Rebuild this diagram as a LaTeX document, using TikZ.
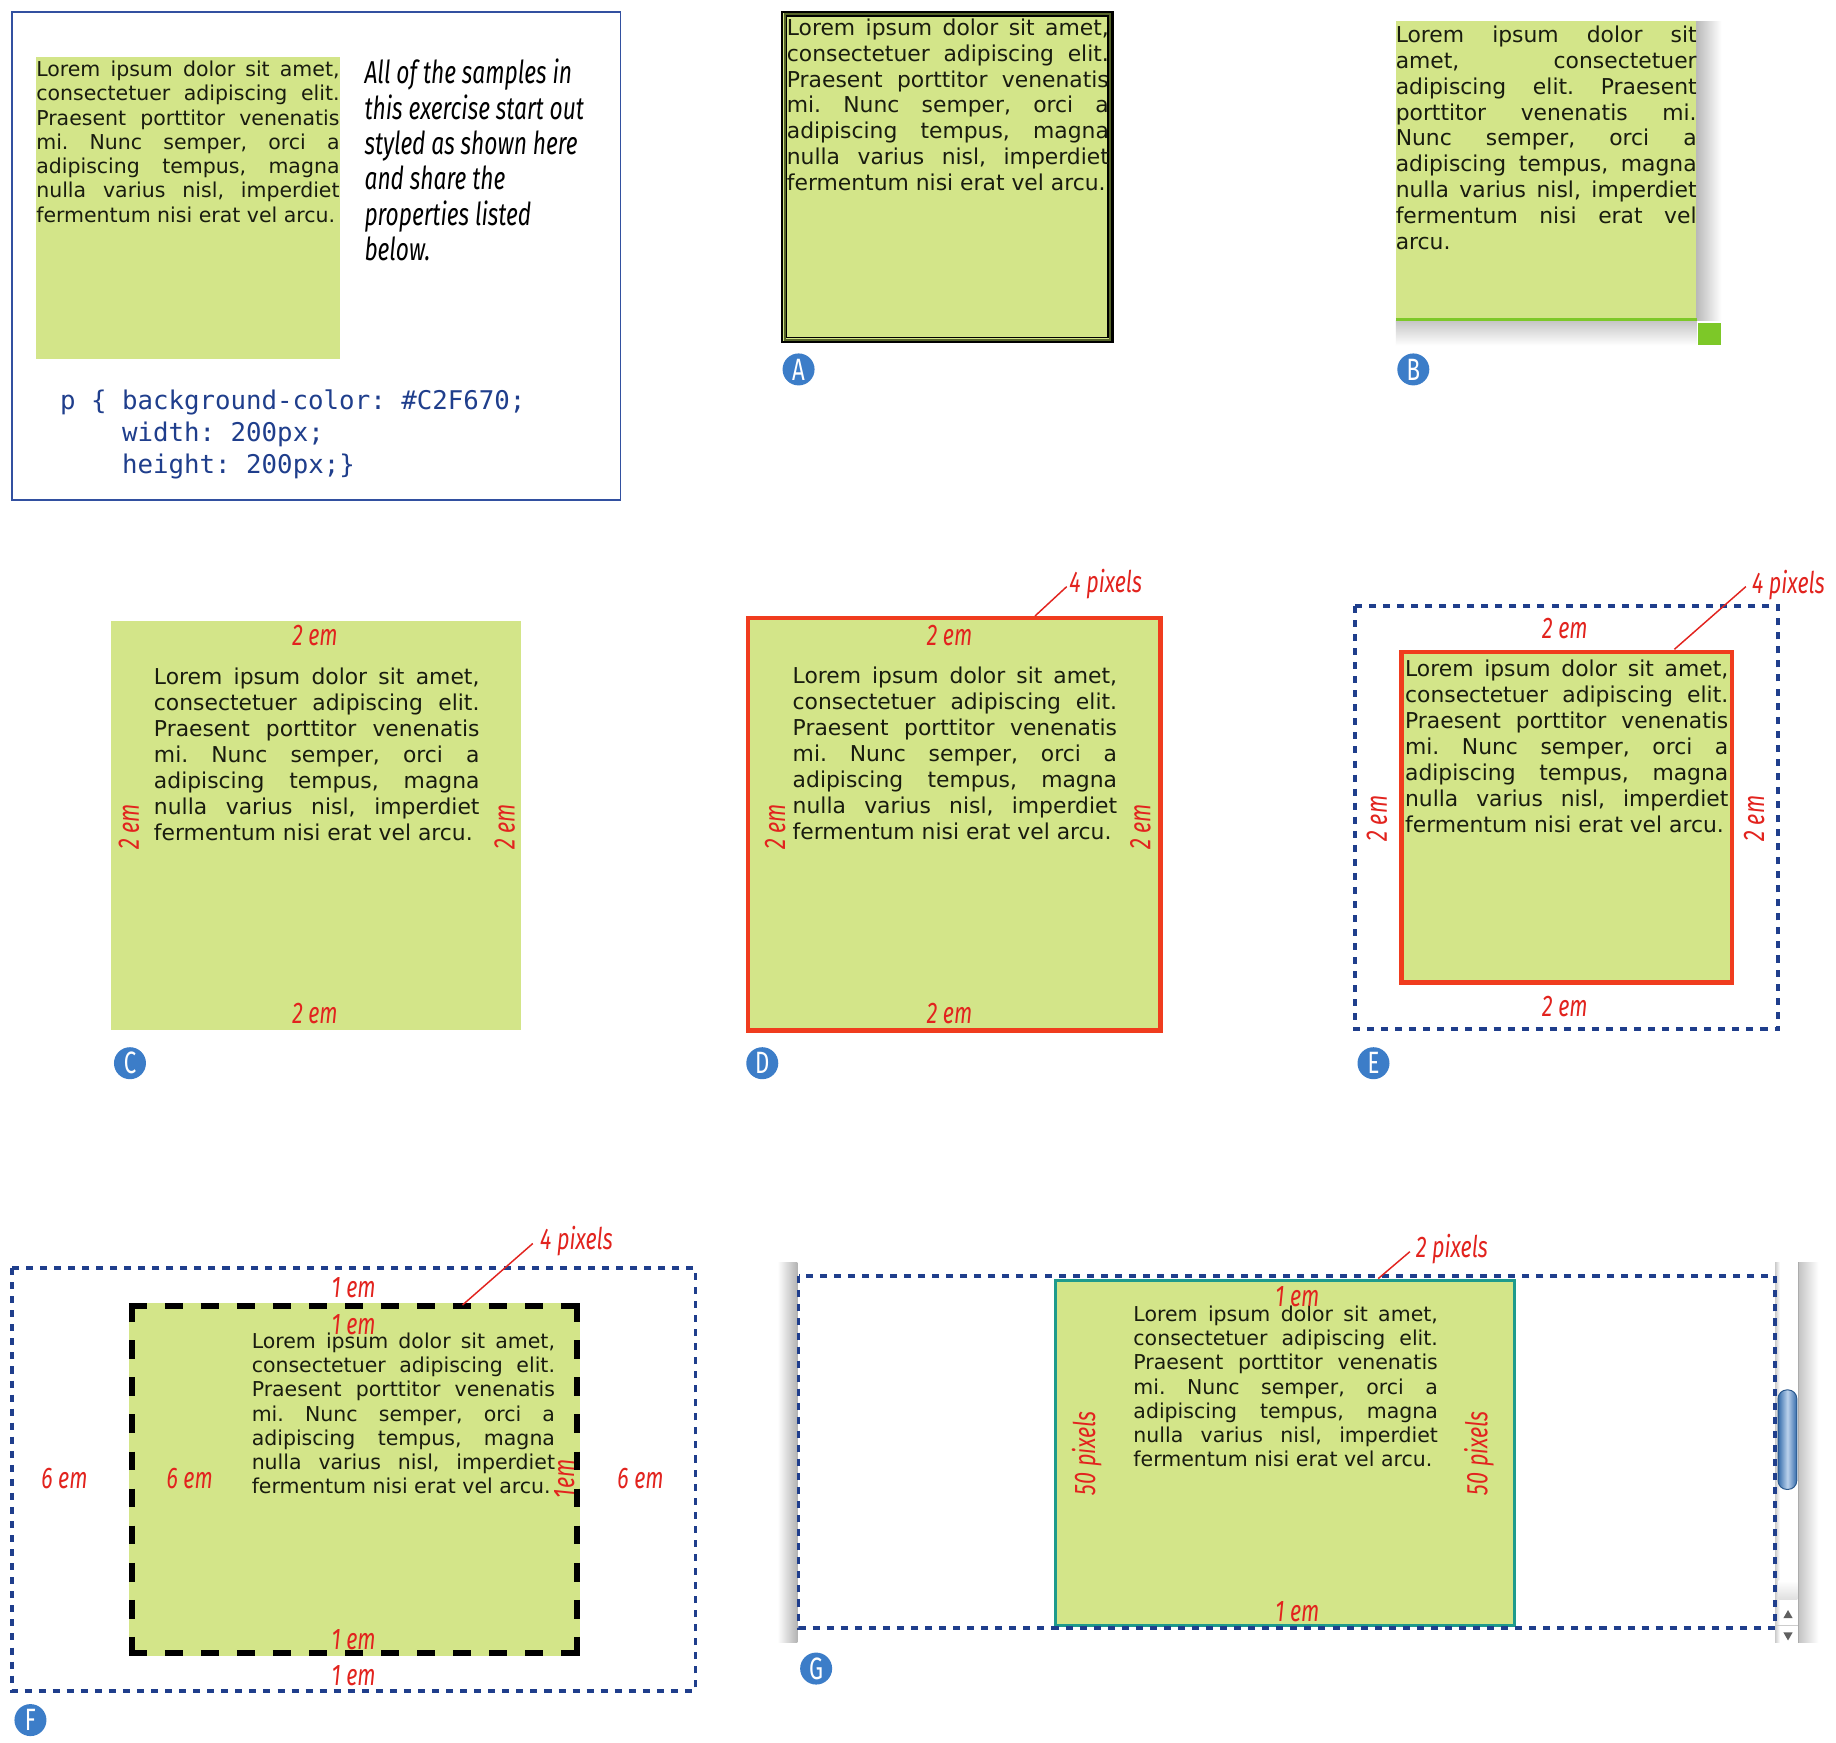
\documentclass[tikz,border=0pt]{standalone}
\usepackage{fontspec}
\setmainfont{DejaVu Sans}
\newfontfamily\loremf{DejaVu Sans}
\newfontfamily\condf[FakeStretch=0.72]{Fira Sans}
\newfontfamily\codef{DejaVu Sans Mono}
\definecolor{pgreen}{RGB}{211,229,137}
\definecolor{lred}{RGB}{226,35,30}
\definecolor{bred}{RGB}{240,60,30}
\definecolor{dblue}{RGB}{31,62,140}
\definecolor{tlblue}{RGB}{50,80,160}
\definecolor{lblue}{RGB}{60,125,200}
\definecolor{tealbd}{RGB}{30,155,140}
\definecolor{bgreen}{RGB}{125,200,40}
\definecolor{olivebd}{RGB}{85,100,40}
\definecolor{textk}{RGB}{25,28,15}
\frenchspacing
\newcommand{\Lsmall}{\fontsize{10.5pt}{12.42pt}\selectfont}
\newcommand{\Lbig}{\fontsize{11.2pt}{13.3pt}\selectfont}
\newcommand{\jl}[2]{\hbox{\makebox[#1][s]{#2}}}
\newcommand{\loremstd}[2]{\vtop{#2%
\jl{#1}{Lorem ipsum dolor sit amet,}%
\jl{#1}{consectetuer adipiscing elit.}%
\jl{#1}{Praesent porttitor venenatis}%
\jl{#1}{mi. Nunc semper, orci a}%
\jl{#1}{adipiscing tempus, magna}%
\jl{#1}{nulla varius nisl, imperdiet}%
\hbox{fermentum nisi erat vel arcu.}}}
\newcommand{\loremB}[2]{\vtop{#2%
\jl{#1}{Lorem ipsum dolor sit}%
\jl{#1}{amet, consectetuer}%
\jl{#1}{adipiscing elit. Praesent}%
\jl{#1}{porttitor venenatis mi.}%
\jl{#1}{Nunc semper, orci a}%
\jl{#1}{adipiscing tempus, magna}%
\jl{#1}{nulla varius nisl, imperdiet}%
\jl{#1}{fermentum nisi erat vel}%
\hbox{arcu.}}}
\tikzset{
  loremnode/.style={anchor=base west, inner sep=0pt, outer sep=0pt, font=\loremf, text=textk},
  lbl/.style={text=lred, font=\condf\itshape\fontsize{15.3pt}{16pt}\selectfont, inner sep=0pt},
  circlbl/.style={circle, fill=lblue, text=white, minimum size=16.4pt, inner sep=0pt, font=\condf\fontsize{15.8pt}{16pt}\selectfont},
  bluedash/.style={draw=dblue, line width=1.95pt, dash pattern=on 3.6pt off 3.6pt},
  redbd/.style={draw=bred, line width=2.3pt},
  leader/.style={draw=lred, line width=0.75pt},
  greenbox/.style={fill=pgreen},
  codetext/.style={anchor=base west, inner sep=0pt, text=dblue, font=\codef\fontsize{13.2pt}{14pt}\selectfont},
}
\begin{document}
\begin{tikzpicture}[x=0.6pt,y=-0.6pt]
\useasboundingbox (0,0) rectangle (1568,1488);
\fill[white] (0,0) rectangle (1568,1488);

% ---------- top-left panel ----------
\draw[tlblue, line width=0.9pt] (10,10) rectangle (530,427);
\fill[greenbox] (31,49) rectangle (290,307);
\node[loremnode] (tltext) at (31,65.5) {\loremstd{155.4pt}{\Lsmall}};
\node[anchor=base west, inner sep=0pt, font=\condf\itshape\fontsize{16.2pt}{18.1pt}\selectfont] (desc) at (311,71.7)
  {\vtop{\hbox{All of the samples in}\hbox{this exercise start out}\hbox{styled as shown here}\hbox{and share the}\hbox{properties listed}\hbox{below.}}};
\node[codetext] (code1) at (51,350) {p \{ background-color: \#C2F670;};
\node[codetext] (code2) at (104,377) {width: 200px;};
\node[codetext] (code3) at (104,404) {height: 200px;\}};

% ---------- A ----------
\fill[greenbox] (667,9) rectangle (951,293);
\draw[black, line width=1.2pt] (668,10) rectangle (950,292);
\draw[olivebd, line width=1.0pt] (670,12) rectangle (948,290);
\draw[black, line width=0.8pt] (671.6,13.6) rectangle (946.4,288.4);
\node[loremnode] (atext) at (672,30) {\loremstd{165pt}{\Lbig}};
\node[circlbl] (la) at (682,315.5) {A};

% ---------- B ----------
\fill[greenbox] (1192,18) rectangle (1449,273);
\shade[left color=gray!55, right color=white] (1448.5,18) rectangle (1470,274);
\shade[top color=gray!45, bottom color=white] (1192,274) rectangle (1449,295);
\draw[bgreen, line width=1.2pt] (1192,273) -- (1449,273);
\fill[bgreen] (1450.5,276) rectangle (1470,295);
\node[loremnode] (btext) at (1192,36) {\loremB{154.2pt}{\Lbig}};
\node[circlbl] (lb) at (1207,315.5) {B};

% ---------- C ----------
\fill[greenbox] (95,530) rectangle (445,880);
\node[loremnode] (ctext) at (131.5,585) {\loremstd{166.8pt}{\Lbig}};
\node[lbl] (c1) at (269,543) {2 em};
\node[lbl] (c2) at (269,866) {2 em};
\node[lbl, rotate=90] (c3) at (110,706) {2 em};
\node[lbl, rotate=90] (c4) at (431,706) {2 em};
\node[circlbl] (lc) at (111,908) {C};

% ---------- D ----------
\fill[greenbox] (637,526) rectangle (993,882);
\draw[redbd] (639,528) rectangle (991,880);
\node[loremnode] (dtext) at (677,584) {\loremstd{166.2pt}{\Lbig}};
\node[lbl] (d1) at (811,543) {2 em};
\node[lbl] (d2) at (811,866) {2 em};
\node[lbl, rotate=90] (d3) at (662,706) {2 em};
\node[lbl, rotate=90] (d4) at (974,706) {2 em};
\node[lbl, anchor=west] (d5) at (913,499) {4 pixels};
\coordinate (d5a) at (884,526);
\coordinate (d5b) at (911,501);
\draw[leader] (d5a) -- (d5b);
\node[circlbl] (ld) at (651,908) {D};

% ---------- E ----------
\draw[bluedash] (1157,517.5) rectangle (1518.5,879);
\fill[greenbox] (1195,555) rectangle (1481,841);
\draw[redbd, line width=2.2pt] (1196.9,556.9) rectangle (1479.1,839.1);
\node[loremnode] (etext) at (1200,578) {\loremstd{165.6pt}{\Lbig}};
\node[lbl] (e1) at (1336.5,537) {2 em};
\node[lbl] (e2) at (1336.5,860) {2 em};
\node[lbl, rotate=90] (e3) at (1176,699) {2 em};
\node[lbl, rotate=90] (e4) at (1498,699) {2 em};
\node[lbl, anchor=west] (e5) at (1496,499.5) {4 pixels};
\coordinate (e5a) at (1430,554.5);
\coordinate (e5b) at (1491,501);
\draw[leader] (e5a) -- (e5b);
\node[circlbl] (le) at (1173,908) {E};

% ---------- F ----------
\draw[bluedash] (10,1083) rectangle (594,1444);
\fill[greenbox] (110,1113) rectangle (495,1414);
\draw[black, line width=3pt, dash pattern=on 9.3pt off 9.17pt] (110,1115.5) -- (495,1115.5);
\draw[black, line width=3pt, dash pattern=on 9.3pt off 9.17pt] (110,1411.5) -- (495,1411.5);
\draw[black, line width=3pt, dash pattern=on 9.6pt off 9.4pt] (112.5,1113) -- (112.5,1414);
\draw[black, line width=3pt, dash pattern=on 9.6pt off 9.4pt] (492.5,1113) -- (492.5,1414);
\node[loremnode] (ftext) at (215,1151.5) {\loremstd{155.4pt}{\Lsmall}};
\node[lbl] (f1) at (302,1100) {1 em};
\node[lbl] (f2) at (302,1131) {1 em};
\node[lbl] (f3) at (302,1400) {1 em};
\node[lbl] (f4) at (302,1431) {1 em};
\node[lbl] (f5) at (55,1263) {6 em};
\node[lbl] (f6) at (162,1263) {6 em};
\node[lbl] (f7) at (547,1263) {6 em};
\node[lbl, rotate=90] (f8) at (482,1263) {1em};
\node[lbl, anchor=west] (f9) at (461,1060) {4 pixels};
\coordinate (f9a) at (395,1114.5);
\coordinate (f9b) at (455,1062);
\draw[leader] (f9a) -- (f9b);
\node[circlbl] (lf) at (26,1469) {F};

% ---------- G ----------
\shade[left color=white, right color=gray!60] (664,1078) rectangle (681,1403);
\shade[left color=gray!40, right color=white] (1516,1078) rectangle (1520,1403);
\fill[white] (1520,1078) rectangle (1535.5,1403);
\draw[gray!65, line width=0.6pt] (1536,1078) -- (1536,1403);
\shade[left color=gray!45, right color=white] (1536.5,1078) rectangle (1553,1403);
\shade[top color=white, bottom color=gray!25] (1519,1350) rectangle (1535,1366);
\draw[gray!40, line width=0.4pt] (1517,1388) -- (1535.5,1388);
\fill[gray!75!black] (1523,1382) -- (1531,1382) -- (1527,1375) -- cycle;
\fill[gray!75!black] (1523,1394) -- (1531,1394) -- (1527,1401) -- cycle;
\shade[draw=lblue!70!black, line width=0.5pt, rounded corners=4.5pt, left color=lblue!85!black, right color=lblue!85!black, middle color=lblue!35] (1518.5,1187) rectangle (1534.5,1272);
\fill[greenbox] (901,1093) rectangle (1294,1389);
\draw[tealbd, line width=1.5pt] (901.8,1093.8) rectangle (1293.2,1388.2);
\draw[bluedash] (682,1090) rectangle (1516,1390);
\node[loremnode] (gtext) at (968,1128.6) {\loremstd{156pt}{\Lsmall}};
\node[lbl] (g1) at (1108,1107) {1 em};
\node[lbl] (g2) at (1108,1376) {1 em};
\node[lbl, rotate=90] (g3) at (928,1241) {50 pixels};
\node[lbl, rotate=90] (g4) at (1263,1241) {50 pixels};
\node[lbl, anchor=west] (g5) at (1209,1067) {2 pixels};
\coordinate (g5a) at (1177,1092);
\coordinate (g5b) at (1204,1069);
\draw[leader] (g5a) -- (g5b);
\node[circlbl] (lg) at (697,1425) {G};
\end{tikzpicture}
\end{document}
